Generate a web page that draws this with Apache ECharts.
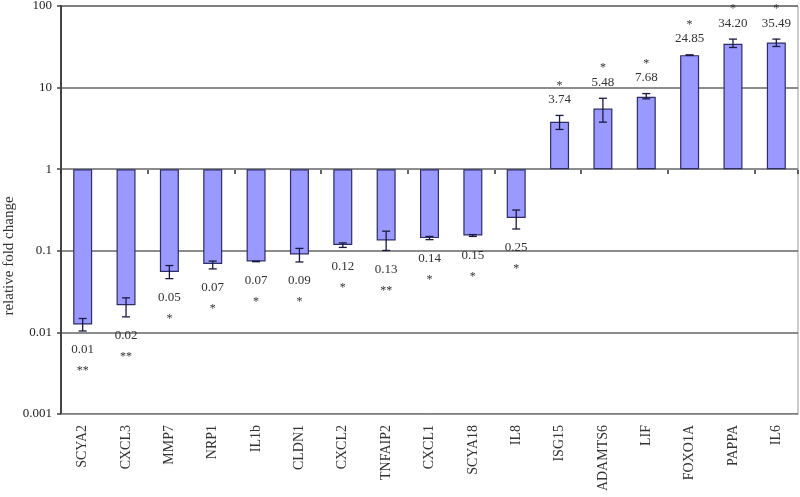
<!DOCTYPE html>
<html>
<head>
<meta charset="utf-8">
<script src="https://cdn.jsdelivr.net/npm/echarts@6/dist/echarts.min.js"></script>
<style>html,body{margin:0;padding:0;background:#fff}#c{width:800px;height:497px}</style>
</head>
<body>
<div id="c"></div>
<script>
const categories = ['SCYA2','CXCL3','MMP7','NRP1','IL1b','CLDN1','CXCL2','TNFAIP2','CXCL1','SCYA18','IL8','ISG15','ADAMTS6','LIF','FOXO1A','PAPPA','IL6'];
const foldChange = [0.0125,0.0215,0.055,0.0688,0.074,0.090,0.118,0.134,0.143,0.154,0.252,3.82,5.54,7.7,25.0,34.4,35.7];
const errLow  = [0.0104,0.0155,0.0456,0.060,0.0735,0.073,0.110,0.101,0.137,0.150,0.185,3.07,3.77,7.28,24.8,31.0,31.9];
const errHigh = [0.0148,0.0265,0.066,0.0748,0.0745,0.107,0.125,0.174,0.150,0.158,0.316,4.56,7.40,8.45,25.2,39.3,39.3];
const valueLabels = ['0.01','0.02','0.05','0.07','0.07','0.09','0.12','0.13','0.14','0.15','0.25','3.74','5.48','7.68','24.85','34.20','35.49'];
const significance = ['**','**','*','*','*','*','*','**','*','*','*','*','*','*','*','*','*'];
const yTickLabels = ['0.001','0.01','0.1','1','10','100'];

const chart = echarts.init(document.getElementById('c'));
const font = 'Liberation Serif, Times New Roman, serif';

const errData = categories.map((c, i) => [i, errLow[i], errHigh[i], foldChange[i]]);

chart.setOption({
  animation: false,
  grid: { left: 61, right: 2, top: 6, bottom: 83, outerBoundsMode: 'none', containLabel: false, show: true, borderColor: '#999', borderWidth: 1, backgroundColor: 'transparent' },
  xAxis: [{
    type: 'category', data: categories, position: 'bottom',
    axisLine: { show: true, lineStyle: { color: '#999', width: 1 } },
    axisTick: { show: false },
    axisLabel: { rotate: 90, fontFamily: font, fontSize: 14, color: '#333', margin: 11, interval: 0 }
  }, {
    type: 'category', data: categories, position: 'bottom', offset: -244,
    axisLine: { show: false },
    axisTick: { show: true, length: 4, lineStyle: { color: '#333', width: 1.5 } },
    axisLabel: { show: false }
  }],
  yAxis: {
    type: 'log', logBase: 10, min: 0.001, max: 100,
    name: 'relative fold change', nameLocation: 'middle', nameGap: 44, nameMoveOverlap: false,
    nameTextStyle: { fontFamily: font, fontSize: 15, color: '#333', padding: [0, 92, 0, 0] },
    axisLine: { show: true, lineStyle: { color: '#444', width: 2 } },
    axisTick: { show: true, length: 4, lineStyle: { color: '#444', width: 1.5 } },
    axisLabel: {
      fontFamily: font, fontSize: 13, color: '#222', margin: 9,
      formatter: v => {
        const k = Math.round(Math.log10(v)) + 3;
        return yTickLabels[k] !== undefined ? yTickLabels[k] : '';
      }
    },
    splitLine: { show: true, lineStyle: { color: '#666', width: 1.5 } }
  },
  series: [{
    type: 'bar', data: foldChange, barWidth: 19, xAxisIndex: 0,
    itemStyle: { color: '#9999ff', borderColor: '#2e2e66', borderWidth: 1.2 }
  }, {
    type: 'custom', xAxisIndex: 0, data: errData, z: 5,
    renderItem: (params, api) => {
      const i = api.value(0);
      const lo = api.coord([i, api.value(1)]);
      const hi = api.coord([i, api.value(2)]);
      const up = api.value(3) >= 1;
      const cap = 4;
      const style = { stroke: '#1a1a40', lineWidth: 1.3 };
      const endY = up ? hi[1] : lo[1];
      const dir = up ? -1 : 1;
      const labelY = endY + dir * (up ? 16 : 19);
      const starY = labelY + dir * (up ? 17 : 18) + 3;
      return {
        type: 'group',
        children: [
          { type: 'line', shape: { x1: lo[0], y1: lo[1], x2: hi[0], y2: hi[1] }, style },
          { type: 'line', shape: { x1: lo[0] - cap, y1: lo[1], x2: lo[0] + cap, y2: lo[1] }, style },
          { type: 'line', shape: { x1: hi[0] - cap, y1: hi[1], x2: hi[0] + cap, y2: hi[1] }, style },
          { type: 'text', x: lo[0], y: labelY, style: { text: valueLabels[params.dataIndex], fill: '#333', font: '13px ' + font, align: 'center', verticalAlign: 'middle' } },
          { type: 'text', x: lo[0], y: starY, style: { text: significance[params.dataIndex], fill: '#333', font: '12px ' + font, align: 'center', verticalAlign: 'middle' } }
        ]
      };
    }
  }]
});
</script>
</body>
</html>
